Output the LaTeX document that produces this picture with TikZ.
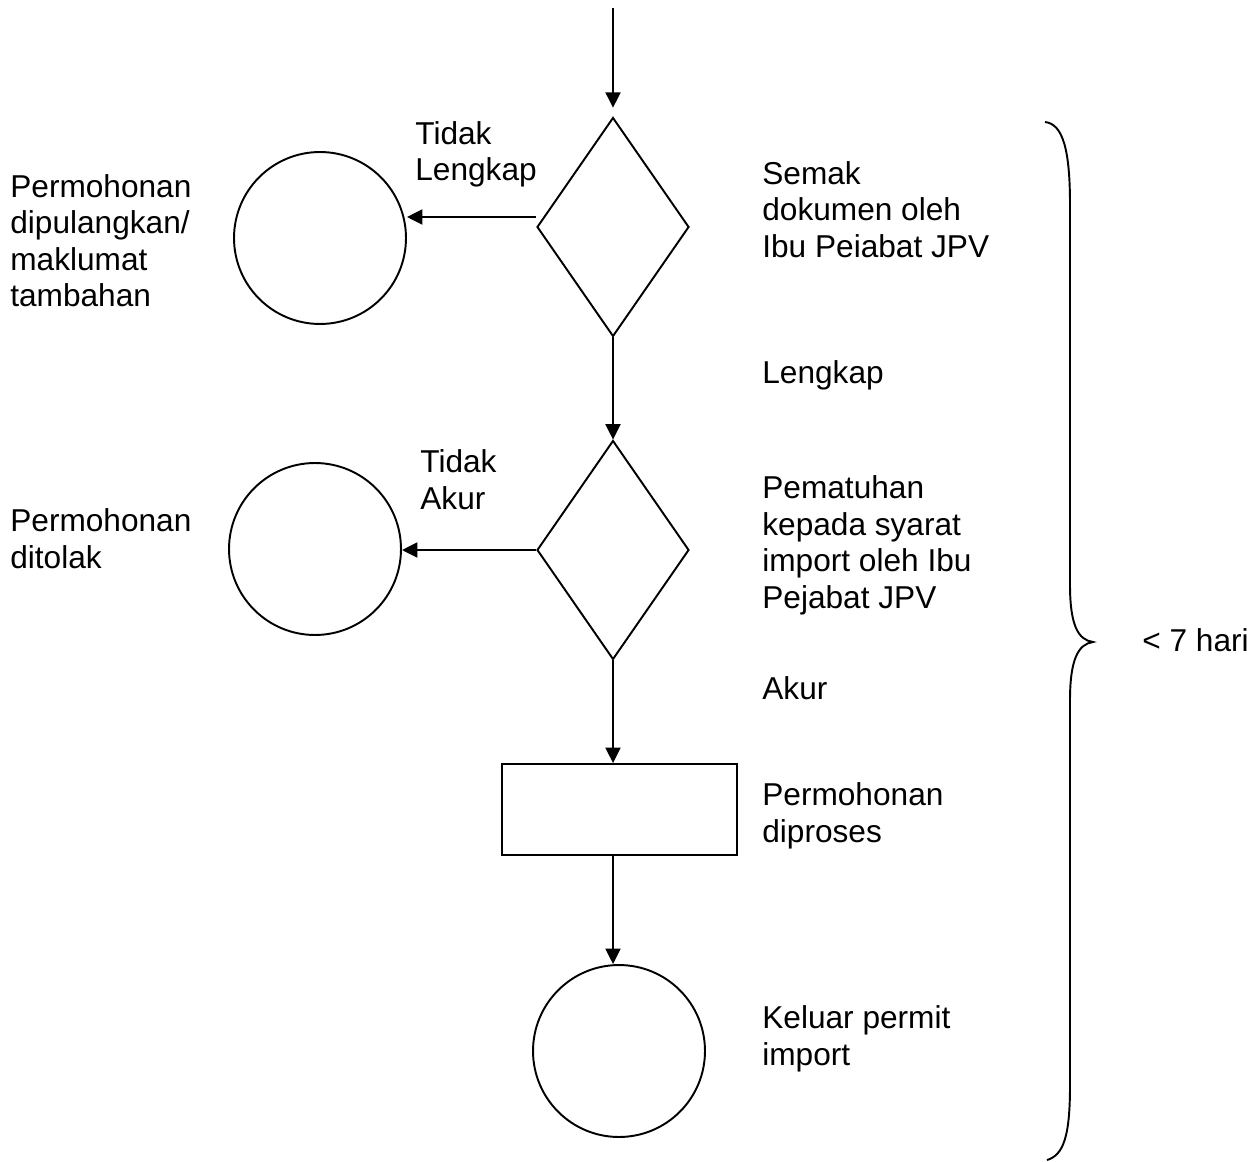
\documentclass[tikz,border=0pt]{standalone}
\usepackage{fontspec}
\setmainfont{Liberation Sans}
\usetikzlibrary{shapes.geometric,arrows.meta}
\tikzset{
  ln/.style={line width=1.1pt},
  flow/.style={ln,-{Triangle[length=0.31cm,width=0.3cm]}},
  decision/.style={diamond,draw,ln,inner sep=0pt,minimum width=3.04cm,minimum height=4.38cm},
  terminal/.style={circle,draw,ln,inner sep=0pt,minimum size=3.44cm},
  process/.style={rectangle,draw,ln,inner sep=0pt,minimum width=4.7cm,minimum height=1.82cm},
  lbl/.style={inner sep=0pt,anchor=base west,align=left,font=\fontsize{18pt}{20.7pt}\selectfont}
}
\begin{document}
\begin{tikzpicture}[x=0.02cm,y=-0.02cm]
\useasboundingbox (0,0) rectangle (1257,1162);
% shapes
\coordinate (start) at (613,8);
\node[decision] (d1) at (613,227) {};
\node[decision] (d2) at (613,550) {};
\node[terminal] (c1) at (320,238) {};
\node[terminal] (c2) at (315,549) {};
\node[process] (r) at (619.5,809.5) {};
\node[terminal] (c3) at (619,1051) {};
% connectors
\draw[flow,shorten >=5pt] (start) -- (d1.north);
\draw[flow] (d1.south) -- (d2.north);
\draw[flow] (d2.south) -- (d2.south |- r.north);
\draw[flow] (r.south -| d2.south) -- (d2.south |- c3.north);
\draw[flow] ([yshift=0.2cm]d1.west) -- ([yshift=0.2cm]d1.west -| c1.east);
\draw[flow] (d2.west) -- (d2.west -| c2.east);
% brace
\draw[ln] (1045,122) .. controls (1063,124) and (1070,150) .. (1070,205)
  -- (1070,585) .. controls (1070,625) and (1078,640) .. (1093,642)
  .. controls (1078,644) and (1070,660) .. (1070,700)
  -- (1070,1085) .. controls (1070,1135) and (1064,1155) .. (1047,1160);
% labels (anchored at the baseline of the last line)
\node[lbl] (t1) at (415,180.5) {Tidak\\Lengkap};
\node[lbl] (t2) at (10,306.5) {Permohonan\\dipulangkan/\\maklumat\\tambahan};
\node[lbl] (t3) at (762,257) {Semak\\dokumen oleh\\Ibu Peiabat JPV};
\node[lbl] (t4) at (762,383) {Lengkap};
\node[lbl] (t5) at (420,509) {Tidak\\Akur};
\node[lbl] (t6) at (10,568) {Permohonan\\ditolak};
\node[lbl] (t7) at (762,608) {Pematuhan\\kepada syarat\\import oleh Ibu\\Pejabat JPV};
\node[lbl] (t8) at (762,699) {Akur};
\node[lbl] (t9) at (762,842) {Permohonan\\diproses};
\node[lbl] (t10) at (762,1065) {Keluar permit\\import};
\node[lbl] (t11) at (1142,651) {< 7 hari};
\end{tikzpicture}
\end{document}
